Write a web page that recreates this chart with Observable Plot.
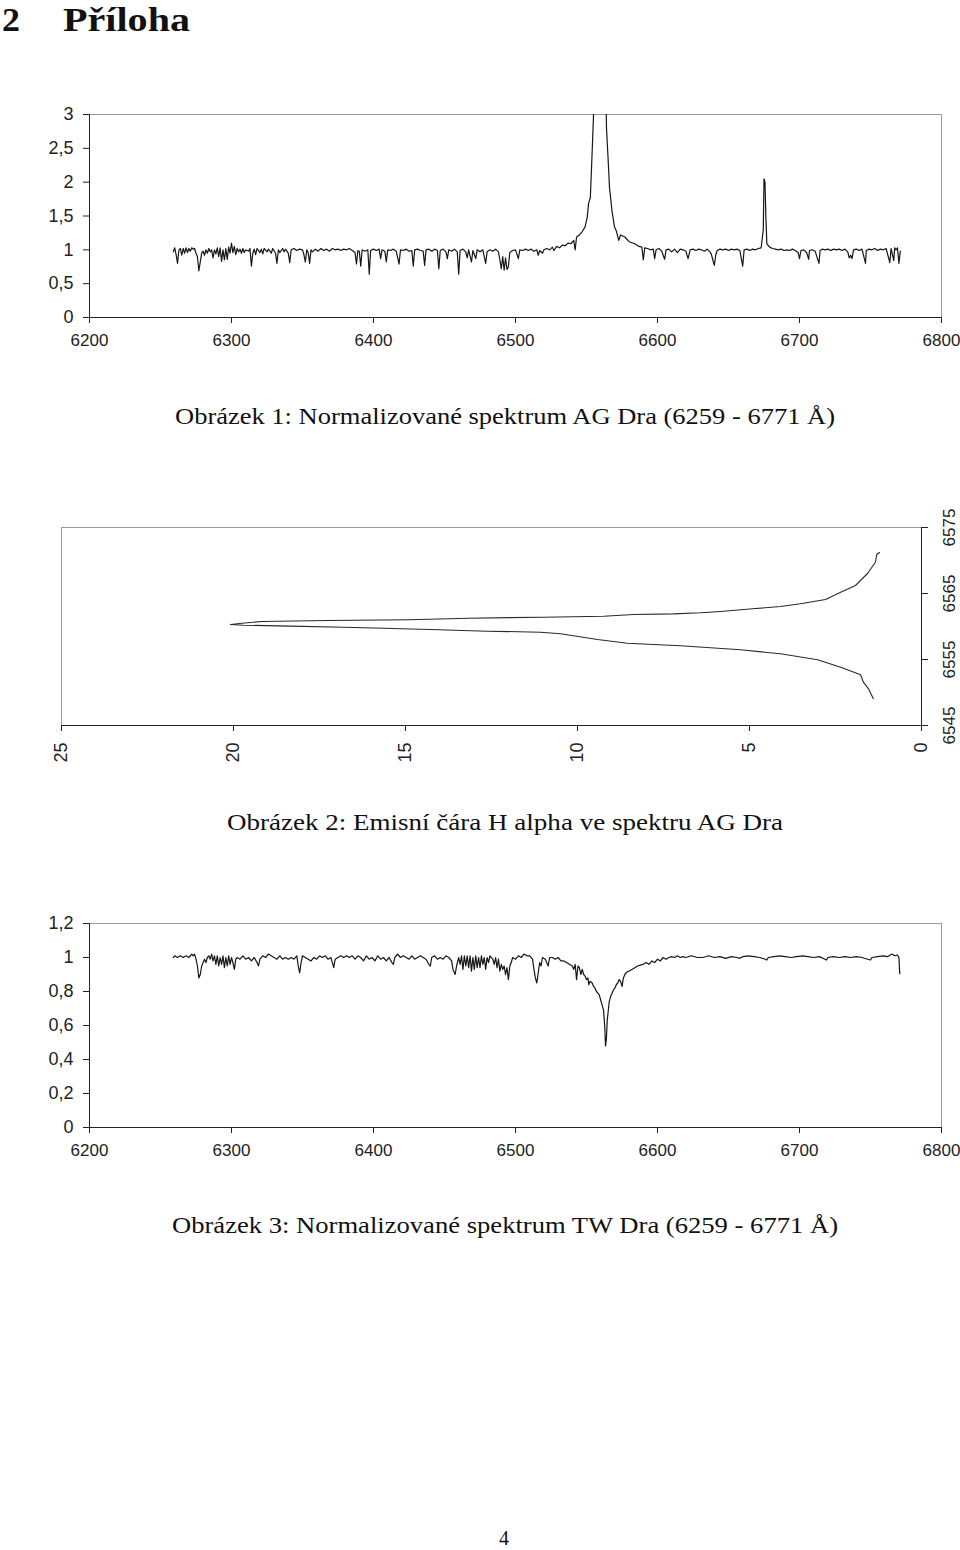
<!DOCTYPE html>
<html>
<head>
<meta charset="utf-8">
<script src="https://cdn.jsdelivr.net/npm/d3@7"></script>
<script src="https://cdn.jsdelivr.net/npm/@observablehq/plot@0.6"></script>
<style>
  html, body { margin: 0; padding: 0; background: #fff; }
  #page { position: relative; width: 960px; height: 1550px; overflow: hidden; background: #fff; }
  .chart { position: absolute; left: 0; }
  .txt { position: absolute; white-space: nowrap; line-height: 1; color: #111;
         font-family: "Liberation Serif", "Times New Roman", serif; transform-origin: 0 0; }
</style>
</head>
<body>
<div id="page"></div>
<script>
// ---------------- DATA ----------------
const heading = ["2", "Příloha"];
const captions = [
  "Obrázek 1: Normalizované spektrum AG Dra (6259 - 6771 Å)",
  "Obrázek 2: Emisní čára H alpha ve spektru AG Dra",
  "Obrázek 3: Normalizované spektrum TW Dra (6259 - 6771 Å)"
];
const pageNumber = "4";

const wavelengthTicks = [6200, 6300, 6400, 6500, 6600, 6700, 6800];
const fluxTicksAG = [0, 0.5, 1, 1.5, 2, 2.5, 3];
const fluxTicksTW = [0, 0.2, 0.4, 0.6, 0.8, 1, 1.2];
const intensityTicksHa = [0, 5, 10, 15, 20, 25];
const wavelengthTicksHa = [6545, 6555, 6565, 6575];

// AG Dra normalized spectrum: [wavelength Å, flux]
const agDraSpectrum = [
[6259,0.97],[6260,1.03],[6261,0.93],[6262,0.80],[6263,1.00],[6264,1.02],[6265,0.92],[6266,1.02],[6267,0.95],[6268,1.03],
[6269,0.96],[6270,1.02],[6271,0.98],[6272,1.03],[6273,1.01],[6274,1.02],[6275,0.95],[6276,0.90],[6277,0.69],[6278,0.82],
[6279,0.95],[6280,0.98],[6281,0.92],[6282,1.00],[6283,0.95],[6284,1.02],[6285,0.97],[6286,1.00],[6287,0.88],[6288,1.00],
[6289,0.94],[6290,1.03],[6291,0.90],[6292,1.03],[6293,0.83],[6294,1.00],[6295,0.85],[6296,1.02],[6297,0.86],[6298,1.04],
[6299,0.95],[6300,1.10],[6301,0.96],[6302,1.05],[6303,0.93],[6304,1.02],[6305,0.97],[6306,1.01],[6307,0.95],[6308,1.02],
[6309,0.96],[6310,1.00],[6312,0.98],[6313,1.02],[6314,0.76],[6315,0.95],[6316,1.01],[6317,0.93],[6318,1.02],[6320,0.96],
[6321,1.01],[6322,0.94],[6323,1.02],[6325,0.97],[6326,1.01],[6328,0.95],[6329,1.02],[6331,0.95],[6332,0.80],[6333,1.00],
[6334,0.96],[6336,1.02],[6337,0.97],[6338,1.01],[6340,0.95],[6341,0.81],[6342,1.00],[6344,1.02],[6346,0.99],[6348,1.01],
[6350,1.00],[6351,0.93],[6352,0.82],[6353,1.00],[6354,0.96],[6355,0.80],[6356,1.00],[6357,0.97],[6359,1.01],[6361,0.98],
[6363,1.02],[6365,0.99],[6367,1.01],[6369,0.98],[6371,1.02],[6373,1.00],[6375,1.01],[6377,0.99],[6379,1.01],[6381,1.00],
[6383,1.02],[6385,0.99],[6387,0.96],[6388,0.79],[6389,0.99],[6390,0.98],[6391,0.76],[6392,1.00],[6394,0.98],[6396,1.00],
[6397,0.64],[6398,0.99],[6400,1.01],[6402,0.99],[6404,1.01],[6405,0.87],[6406,1.00],[6408,0.98],[6409,0.82],[6410,1.00],
[6412,0.99],[6414,1.01],[6416,0.98],[6418,0.79],[6419,1.00],[6421,0.99],[6423,1.01],[6425,0.98],[6427,0.99],[6428,0.76],
[6429,1.00],[6431,1.01],[6433,0.99],[6435,0.98],[6436,0.77],[6437,1.00],[6439,1.01],[6441,0.98],[6443,1.01],[6445,0.99],
[6446,0.72],[6447,0.99],[6449,1.01],[6451,0.97],[6452,0.87],[6453,1.00],[6455,0.98],[6457,1.01],[6459,0.97],[6460,0.64],
[6461,0.99],[6463,1.01],[6465,0.97],[6466,0.88],[6467,1.00],[6469,0.82],[6470,0.99],[6472,0.87],[6473,1.00],[6475,0.97],
[6477,1.00],[6479,0.80],[6480,0.97],[6482,1.00],[6484,0.98],[6486,1.01],[6488,0.97],[6489,0.85],[6490,0.72],[6491,0.90],
[6492,0.70],[6493,0.88],[6494,0.71],[6495,0.75],[6496,0.96],[6498,0.99],[6500,1.00],[6502,0.87],[6503,1.00],[6505,0.99],
[6507,1.01],[6509,0.99],[6511,1.01],[6513,0.98],[6515,1.00],[6516,0.92],[6517,0.99],[6519,0.95],[6520,1.00],[6522,1.02],
[6524,1.00],[6526,1.04],[6527,0.99],[6529,1.05],[6531,1.03],[6533,1.07],[6535,1.06],[6537,1.10],[6539,1.09],[6541,1.14],
[6542,1.00],[6543,1.19],[6545,1.22],[6547,1.27],[6549,1.34],[6550.5,1.48],[6551.5,1.69],[6552.7,1.77],[6553.8,2.35],[6555,3.02],
[6555.9,4.10],[6556.5,5.26],[6557.1,7.01],[6557.5,8.55],[6558,9.42],[6558.9,10.49],[6559.3,12.62],[6559.7,15.64],[6560.05,18.34],[6560.3,20.09],
[6560.5,19.75],[6560.9,17.28],[6561.3,13.17],[6561.6,9.24],[6562.1,6.42],[6562.7,4.91],[6563,4.10],[6563.4,3.52],[6564.1,2.79],[6565.2,2.35],
[6566.2,1.92],[6568,1.57],[6569.7,1.34],[6571,1.28],[6572.7,1.14],[6574,1.22],[6577,1.19],[6580,1.12],[6584,1.09],[6587,1.05],
[6589,1.04],[6590,0.85],[6591,1.03],[6593,1.02],[6595,1.00],[6597,1.01],[6598,0.87],[6599,1.00],[6601,1.02],[6603,0.98],
[6605,0.86],[6606,1.00],[6608,1.01],[6610,0.97],[6612,1.01],[6614,0.96],[6616,1.01],[6618,1.00],[6620,0.98],[6621.5,0.87],
[6623,1.00],[6625,1.01],[6627,0.99],[6629,1.01],[6631,1.00],[6633,0.98],[6635,1.01],[6637,0.97],[6638,0.93],[6639,0.85],
[6640,0.77],[6641,0.92],[6642,0.99],[6644,1.01],[6646,1.00],[6648,1.01],[6650,0.99],[6652,1.01],[6654,1.00],[6656,1.01],
[6658,0.99],[6660,0.76],[6661,1.00],[6663,1.01],[6665,0.99],[6667,1.01],[6669,1.00],[6671,1.02],[6673,1.03],[6674.5,1.30],
[6675,2.05],[6675.7,2.00],[6676.3,1.50],[6677,1.09],[6679,1.04],[6681,1.02],[6683,1.01],[6685,1.00],[6687,1.01],[6689,0.99],
[6691,1.00],[6693,0.99],[6695,1.01],[6697,0.99],[6699,0.96],[6700,0.87],[6701,0.99],[6703,1.00],[6705,0.96],[6706.5,0.86],
[6707,0.99],[6709,1.00],[6711,0.98],[6713.7,0.80],[6714.5,0.99],[6716,1.01],[6718,1.00],[6720,1.01],[6722,0.99],[6724,1.01],
[6726,1.00],[6728,1.01],[6730,0.99],[6732,1.01],[6734,0.97],[6735,0.88],[6736,0.92],[6737,0.87],[6738,1.00],[6740,1.01],
[6742,0.99],[6744,1.01],[6746.5,0.80],[6747,0.99],[6749,1.01],[6751,1.00],[6753,1.02],[6755,0.99],[6757,1.01],[6759,1.00],
[6761,1.02],[6763.6,0.81],[6764.5,1.02],[6766.4,0.84],[6767,1.03],[6768,1.00],[6769,1.03],[6770,0.80],[6771,0.98]
];

// H alpha emission profile of AG Dra: [intensity, wavelength Å]
const hAlphaProfile = [
[1.40,6549.05],[1.54,6550.56],[1.69,6551.56],[1.77,6552.68],[2.35,6553.83],[3.02,6554.95],[4.10,6555.86],[5.26,6556.47],
[7.01,6557.08],[8.55,6557.47],[9.42,6558.03],[10.49,6558.89],[11.08,6559.14],[12.62,6559.29],[14.04,6559.50],[15.64,6559.74],
[16.80,6559.89],[18.34,6560.05],[19.71,6560.20],[20.09,6560.30],[19.75,6560.50],[19.17,6560.76],[17.28,6560.91],[14.91,6561.02],
[13.17,6561.26],[10.99,6561.41],[9.24,6561.56],[8.37,6561.82],[7.21,6561.92],[6.42,6562.08],[5.84,6562.27],[4.91,6562.68],
[4.10,6563.03],[3.52,6563.44],[2.79,6564.09],[2.35,6565.20],[1.92,6566.21],[1.57,6568.03],[1.34,6569.74],[1.30,6570.9],
[1.22,6571.2],[1.28,6571.02]
];

// TW Dra normalized spectrum: [wavelength Å, flux]
const twDraSpectrum = [
[6259,1.00],[6260,1.01],[6262,1.00],[6264,1.01],[6266,1.00],[6268,1.01],[6270,1.00],[6272,1.02],[6273,1.01],[6274,1.02],
[6275,0.99],[6276,0.95],[6277,0.88],[6278,0.90],[6279,0.95],[6280,0.97],[6281,0.99],[6282,0.97],[6283,1.00],[6284,1.01],
[6285,0.99],[6286,1.02],[6287,0.98],[6288,1.01],[6289,0.96],[6290,1.01],[6291,0.95],[6292,1.00],[6293,0.96],[6294,1.01],
[6295,0.94],[6296,1.00],[6297,0.95],[6298,1.01],[6299,0.96],[6300,1.00],[6301,0.97],[6302,0.93],[6303,0.99],[6304,1.00],
[6306,0.99],[6308,1.01],[6310,0.99],[6312,1.00],[6314,0.98],[6316,1.00],[6318,0.97],[6319,0.95],[6320,0.99],[6322,1.01],
[6324,1.00],[6326,1.02],[6328,1.01],[6330,1.00],[6332,0.99],[6334,1.01],[6336,0.99],[6338,1.00],[6340,0.99],[6342,1.00],
[6344,0.99],[6346,1.01],[6347,0.95],[6348,0.91],[6349,0.97],[6350,1.01],[6352,1.00],[6354,0.99],[6356,0.98],[6358,1.00],
[6360,0.99],[6362,1.01],[6364,1.00],[6366,1.01],[6368,0.99],[6370,1.00],[6371,0.97],[6372,0.94],[6373,0.99],[6375,1.00],
[6377,1.01],[6379,1.00],[6381,1.01],[6383,1.00],[6385,1.01],[6387,0.99],[6389,1.01],[6391,1.00],[6393,0.98],[6395,1.01],
[6397,0.99],[6399,1.00],[6401,0.98],[6403,1.01],[6405,0.99],[6407,1.00],[6409,0.98],[6411,1.00],[6413,0.97],[6414,0.96],
[6415,1.00],[6417,1.02],[6419,1.00],[6421,1.01],[6423,1.00],[6425,0.99],[6427,1.01],[6429,0.99],[6431,1.00],[6433,1.01],
[6435,1.00],[6437,0.99],[6439,0.96],[6440,0.95],[6441,1.00],[6443,1.01],[6445,0.99],[6447,1.00],[6449,0.99],[6451,1.01],
[6453,1.00],[6455,0.98],[6456,0.93],[6457.5,0.90],[6458.5,0.95],[6460,1.00],[6461,0.96],[6462,1.01],[6463,0.93],[6464,1.01],
[6465,0.95],[6466,1.01],[6467,0.94],[6468,1.01],[6469,0.92],[6470,1.00],[6471,0.93],[6472,1.01],[6473,0.94],[6474,1.00],
[6475,0.94],[6476,1.01],[6477,0.96],[6478,1.00],[6479,0.93],[6480,1.00],[6481,0.97],[6482,1.01],[6484,0.99],[6485,0.96],
[6486,1.00],[6487,0.94],[6488,0.99],[6489,0.92],[6490,0.96],[6491,0.93],[6492,0.95],[6493,0.90],[6494,0.94],[6495,0.87],
[6496,0.95],[6497,0.97],[6498,1.00],[6500,0.99],[6502,1.01],[6504,1.00],[6506,1.02],[6508,1.01],[6510,1.01],[6512,0.99],
[6513,0.93],[6514,0.88],[6515,0.85],[6516,0.91],[6517,0.97],[6518,0.95],[6519,1.00],[6521,0.99],[6523,0.95],[6524,1.00],
[6526,1.00],[6528,0.99],[6530,1.00],[6532,0.98],[6534,0.98],[6536,0.97],[6538,0.96],[6540,0.95],[6541,0.93],[6542,0.96],
[6543,0.87],[6544,0.95],[6545,0.94],[6546,0.90],[6547,0.93],[6548,0.90],[6549,0.89],[6550,0.87],[6551,0.88],[6551.6,0.84],
[6552.5,0.86],[6554,0.85],[6555,0.83],[6556,0.82],[6557,0.80],[6558,0.79],[6559,0.78],[6560,0.75],[6561,0.72],[6562,0.69],
[6562.8,0.60],[6563.4,0.48],[6564,0.52],[6564.6,0.63],[6565.5,0.70],[6566,0.74],[6567,0.77],[6568,0.79],[6569,0.81],[6570,0.82],
[6571,0.84],[6572,0.85],[6573,0.87],[6574,0.86],[6575,0.83],[6576,0.88],[6577,0.90],[6578.5,0.915],[6580,0.92],[6582,0.93],
[6584,0.94],[6586,0.95],[6588,0.955],[6590,0.96],[6592,0.97],[6594,0.96],[6596,0.98],[6598,0.97],[6600,0.99],[6602,0.98],
[6604,1.00],[6606,0.99],[6608,1.00],[6610,1.005],[6612,1.00],[6614,1.01],[6616,1.00],[6618,1.005],[6620,1.00],[6624,1.01],
[6628,1.00],[6632,1.00],[6636,1.01],[6640,1.00],[6644,1.005],[6648,0.995],[6652,1.005],[6656,1.00],[6658,0.995],[6660,1.005],
[6664,1.01],[6668,1.005],[6672,1.00],[6676,0.99],[6677,0.985],[6678,1.00],[6682,1.005],[6686,1.01],[6690,1.005],[6694,1.00],
[6698,1.005],[6702,1.01],[6706,1.005],[6710,1.00],[6714,1.005],[6718,0.99],[6719,0.985],[6720,1.00],[6724,1.005],[6728,1.00],
[6732,1.005],[6736,1.00],[6740,1.005],[6744,1.00],[6748,0.99],[6750,0.985],[6751,1.00],[6755,1.005],[6759,1.01],[6762,1.005],
[6765,1.02],[6767,1.01],[6769,1.015],[6770,1.00],[6770.6,0.905]
];

// ---------------- RENDER ----------------
const page = document.getElementById("page");
const comma = d => String(d).replace(".", ",");
const axisStyle = {fontFamily: "'Liberation Sans', Arial, sans-serif", fontSize: "18px", color: "#222", background: "white", overflow: "visible"};
const lineColor = "#161616";
const frameColor = "#9a9a9a";

function addChart(svg, top) {
  const d = document.createElement("div");
  d.className = "chart";
  d.style.top = top + "px";
  d.appendChild(svg);
  page.appendChild(d);
}

// Chart 1: AG Dra spectrum
addChart(Plot.plot({
  width: 960, height: 260,
  marginLeft: 89, marginRight: 19, marginTop: 14, marginBottom: 43,
  x: {domain: [6200, 6800]},
  y: {domain: [0, 3]},
  style: axisStyle,
  marks: [
    Plot.ruleY([3], {stroke: frameColor}),
    Plot.ruleX([6800], {stroke: frameColor}),
    Plot.line(agDraSpectrum, {x: d => d[0], y: d => d[1], stroke: lineColor, strokeWidth: 1.2, clip: true}),
    Plot.axisX({ticks: wavelengthTicks, tickSize: 6, tickPadding: 10, fontSize: 17, tickFormat: d => String(d), label: null}),
    Plot.axisY({ticks: fluxTicksAG, tickSize: 6, tickPadding: 10, tickFormat: comma, label: null}),
    Plot.ruleY([0], {stroke: "#222"}),
    Plot.ruleX([6200], {stroke: "#222"})
  ]
}), 100);

// Chart 2: H alpha profile (rotated)
addChart(Plot.plot({
  width: 960, height: 290,
  marginLeft: 61, marginRight: 39, marginTop: 37, marginBottom: 55,
  x: {domain: [0, 25], reverse: true},
  y: {domain: [6545, 6575]},
  style: axisStyle,
  marks: [
    Plot.ruleY([6575], {stroke: frameColor}),
    Plot.ruleX([25], {stroke: frameColor}),
    Plot.line(hAlphaProfile, {x: d => d[0], y: d => d[1], stroke: "#2a2a2a", strokeWidth: 1.1}),
    Plot.axisX({ticks: intensityTicksHa, tickSize: 6, tickPadding: 11, tickRotate: -90,
                textAnchor: "end", lineAnchor: "middle", tickFormat: d => String(d), label: null}),
    Plot.axisY({anchor: "right", ticks: wavelengthTicksHa, tickSize: 6, tickPadding: 15, tickRotate: -90, fontSize: 17,
                textAnchor: "middle", lineAnchor: "top", tickFormat: d => String(d), label: null}),
    Plot.ruleY([6545], {stroke: "#222"}),
    Plot.ruleX([0], {stroke: "#222"})
  ]
}), 490);

// Chart 3: TW Dra spectrum
addChart(Plot.plot({
  width: 960, height: 270,
  marginLeft: 89, marginRight: 19, marginTop: 18, marginBottom: 48,
  x: {domain: [6200, 6800]},
  y: {domain: [0, 1.2]},
  style: axisStyle,
  marks: [
    Plot.ruleY([1.2], {stroke: frameColor}),
    Plot.ruleX([6800], {stroke: frameColor}),
    Plot.line(twDraSpectrum, {x: d => d[0], y: d => d[1], stroke: lineColor, strokeWidth: 1.2, clip: true}),
    Plot.axisX({ticks: wavelengthTicks, tickSize: 6, tickPadding: 10, fontSize: 17, tickFormat: d => String(d), label: null}),
    Plot.axisY({ticks: fluxTicksTW, tickSize: 6, tickPadding: 10, tickFormat: comma, label: null}),
    Plot.ruleY([0], {stroke: "#222"}),
    Plot.ruleX([6200], {stroke: "#222"})
  ]
}), 905);

// Text placement helper (serif document text)
function place(text, {x, anchor = "start", baseline, size, weight = 400, width}) {
  const el = document.createElement("div");
  el.className = "txt";
  el.textContent = text;
  el.style.fontSize = size + "px";
  el.style.fontWeight = weight;
  el.style.left = "0px";
  el.style.top = "0px";
  page.appendChild(el);
  const w = el.getBoundingClientRect().width;
  const tw = width || w;
  const s = tw / w;
  const left = anchor === "middle" ? x - tw / 2 : x;
  el.style.left = left + "px";
  el.style.top = (baseline - 0.8375 * size) + "px";
  el.style.transform = `scaleX(${s})`;
}

place(heading[0], {x: 2, baseline: 31, size: 34, weight: 700, width: 18});
place(heading[1], {x: 63, baseline: 31, size: 34, weight: 700, width: 127});
place(captions[0], {x: 505, anchor: "middle", baseline: 424, size: 23, width: 660});
place(captions[1], {x: 505, anchor: "middle", baseline: 830, size: 23, width: 556});
place(captions[2], {x: 505, anchor: "middle", baseline: 1233, size: 23, width: 666});
place(pageNumber, {x: 504, anchor: "middle", baseline: 1545, size: 20});
</script>
</body>
</html>
